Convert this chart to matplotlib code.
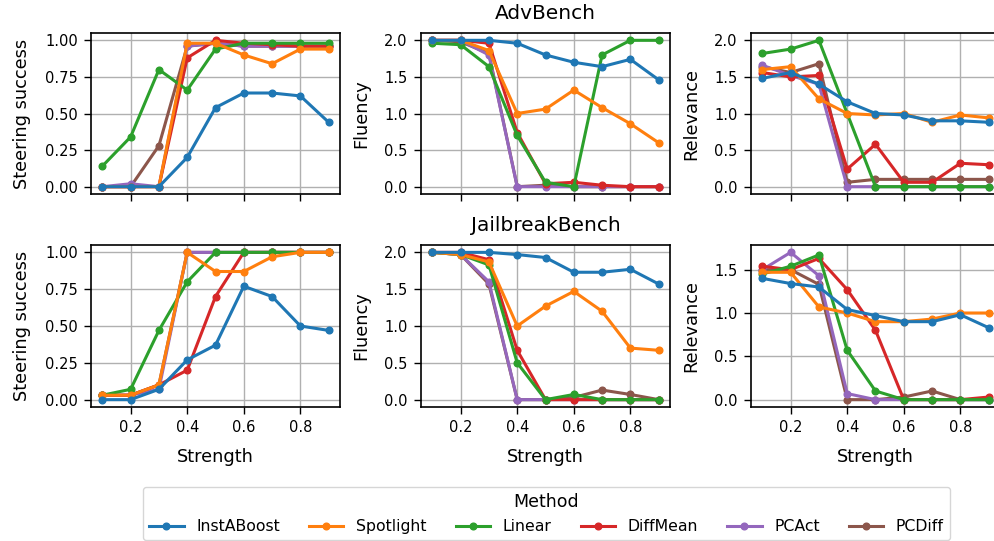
import matplotlib
matplotlib.use("Agg")
import matplotlib.pyplot as plt

strength = [0.1, 0.2, 0.3, 0.4, 0.5, 0.6, 0.7, 0.8, 0.9]
methods = ["InstABoost", "Spotlight", "Linear", "DiffMean", "PCAct", "PCDiff"]
colors = ["#1f77b4", "#ff7f0e", "#2ca02c", "#d62728", "#9467bd", "#8c564b"]
benchmarks = ["AdvBench", "JailbreakBench"]
metrics = ["Steering success", "Fluency", "Relevance"]

# AdvBench
adv_success = {
    "InstABoost": [0.0, 0.0, 0.0, 0.20, 0.54, 0.64, 0.64, 0.62, 0.44],
    "Spotlight": [0.0, 0.0, 0.0, 0.98, 0.98, 0.90, 0.84, 0.94, 0.94],
    "Linear": [0.14, 0.34, 0.80, 0.66, 0.94, 0.98, 0.98, 0.98, 0.98],
    "DiffMean": [0.0, 0.0, 0.0, 0.88, 1.00, 0.98, 0.97, 0.96, 0.96],
    "PCAct": [0.0, 0.02, 0.0, 0.96, 0.98, 0.96, 0.96, 0.96, 0.96],
    "PCDiff": [0.0, 0.0, 0.28, 0.96, 0.98, 0.96, 0.96, 0.96, 0.96],
}
adv_fluency = {
    "InstABoost": [2.0, 2.0, 2.0, 1.96, 1.80, 1.70, 1.64, 1.74, 1.46],
    "Spotlight": [2.0, 2.0, 1.86, 1.00, 1.06, 1.32, 1.08, 0.86, 0.60],
    "Linear": [1.96, 1.94, 1.64, 0.70, 0.06, 0.0, 1.80, 2.0, 2.0],
    "DiffMean": [2.0, 2.0, 1.96, 0.74, 0.04, 0.06, 0.02, 0.0, 0.0],
    "PCAct": [2.0, 2.0, 1.80, 0.0, 0.0, 0.0, 0.0, 0.0, 0.0],
    "PCDiff": [2.0, 1.98, 1.82, 0.0, 0.02, 0.0, 0.0, 0.0, 0.0],
}
adv_relevance = {
    "InstABoost": [1.48, 1.56, 1.40, 1.16, 1.00, 0.98, 0.90, 0.90, 0.88],
    "Spotlight": [1.60, 1.64, 1.20, 1.00, 0.98, 1.00, 0.88, 0.98, 0.94],
    "Linear": [1.82, 1.88, 2.00, 1.00, 0.0, 0.0, 0.0, 0.0, 0.0],
    "DiffMean": [1.56, 1.50, 1.52, 0.24, 0.58, 0.06, 0.06, 0.32, 0.30],
    "PCAct": [1.66, 1.52, 1.40, 0.0, 0.0, 0.0, 0.0, 0.0, 0.0],
    "PCDiff": [1.64, 1.56, 1.68, 0.06, 0.10, 0.10, 0.10, 0.10, 0.10],
}

# JailbreakBench
jb_success = {
    "InstABoost": [0.0, 0.0, 0.07, 0.27, 0.37, 0.77, 0.70, 0.50, 0.47],
    "Spotlight": [0.03, 0.03, 0.10, 1.00, 0.87, 0.87, 0.97, 1.00, 1.00],
    "Linear": [0.03, 0.07, 0.47, 0.80, 1.00, 1.00, 1.00, 1.00, 1.00],
    "DiffMean": [0.03, 0.03, 0.10, 0.20, 0.70, 1.00, 1.00, 1.00, 1.00],
    "PCAct": [0.03, 0.03, 0.07, 1.00, 1.00, 1.00, 1.00, 1.00, 1.00],
    "PCDiff": [0.03, 0.03, 0.10, 1.00, 1.00, 1.00, 1.00, 1.00, 1.00],
}
jb_fluency = {
    "InstABoost": [2.0, 2.0, 2.0, 1.97, 1.93, 1.73, 1.73, 1.77, 1.57],
    "Spotlight": [2.0, 1.97, 1.87, 1.00, 1.27, 1.47, 1.20, 0.70, 0.67],
    "Linear": [2.0, 1.97, 1.83, 0.50, 0.0, 0.07, 0.0, 0.0, 0.0],
    "DiffMean": [2.0, 2.0, 1.90, 0.67, 0.0, 0.0, 0.0, 0.0, 0.0],
    "PCAct": [2.0, 1.97, 1.60, 0.0, 0.0, 0.0, 0.0, 0.0, 0.0],
    "PCDiff": [2.0, 1.97, 1.57, 0.0, 0.0, 0.03, 0.13, 0.07, 0.0],
}
jb_relevance = {
    "InstABoost": [1.40, 1.34, 1.30, 1.04, 0.97, 0.90, 0.90, 0.98, 0.83],
    "Spotlight": [1.47, 1.47, 1.07, 1.00, 0.90, 0.90, 0.93, 1.00, 1.00],
    "Linear": [1.45, 1.54, 1.67, 0.57, 0.10, 0.0, 0.0, 0.0, 0.0],
    "DiffMean": [1.54, 1.50, 1.63, 1.27, 0.80, 0.0, 0.0, 0.0, 0.03],
    "PCAct": [1.50, 1.70, 1.43, 0.07, 0.0, 0.0, 0.0, 0.0, 0.0],
    "PCDiff": [1.50, 1.50, 1.33, 0.0, 0.0, 0.03, 0.10, 0.0, 0.0],
}

panels = [[adv_success, adv_fluency, adv_relevance],
          [jb_success, jb_fluency, jb_relevance]]

W, H = 995, 541
fig = plt.figure(figsize=(W / 100, H / 100), dpi=100)

# axes boxes in pixels, the right column runs slightly past the figure edge
col_left = [91, 421, 751]
col_w = 249
row_top = [33, 245]
row_h = [161, 162]

axes = []
for r in range(2):
    row = []
    for c in range(3):
        ax = fig.add_axes([col_left[c] / W, 1 - (row_top[r] + row_h[r]) / H,
                           col_w / W, row_h[r] / H])
        row.append(ax)
    axes.append(row)

handles = {}
for r in range(2):
    for c in range(3):
        ax = axes[r][c]
        data = panels[r][c]
        # last method drawn first, so InstABoost ends up on top
        for m, col in reversed(list(zip(methods, colors))):
            line, = ax.plot(strength, data[m], color=col, lw=2.2, marker="o",
                            ms=4.8, label=m)
            handles[m] = line
        ax.set_xlim(0.06, 0.94)
        ax.set_xticks([0.2, 0.4, 0.6, 0.8])
        ax.grid(True, color="#b0b0b0", lw=1.0)
        ax.set_axisbelow(True)
        ax.tick_params(labelsize=10.5, length=5, width=1.0, pad=4.5)
        for s in ax.spines.values():
            s.set_linewidth(1.2)
        ax.set_ylabel(metrics[c], fontsize=12.8, labelpad=10)
        if c == 0:
            ax.set_yticks([0, 0.25, 0.5, 0.75, 1.0])
            ax.set_yticklabels(["0.00", "0.25", "0.50", "0.75", "1.00"])
        elif r == 1 and c == 2:
            ax.set_yticks([0, 0.5, 1.0, 1.5])
        else:
            ax.set_yticks([0, 0.5, 1.0, 1.5, 2.0])
        if r == 0:
            ax.set_xticklabels([])
        else:
            ax.set_xticklabels(["0.2", "0.4", "0.6", "0.8"])
            ax.set_xlabel("Strength", fontsize=12.8, labelpad=9)
        if c == 1:
            ax.set_title(benchmarks[r], fontsize=14.5, pad=10)

leg = fig.legend([handles[m] for m in methods], methods, title="Method",
                 ncol=6, loc="upper center",
                 bbox_to_anchor=(546.5 / W, 1 - 487 / H), fontsize=11.3,
                 title_fontsize=12.5, frameon=True, handlelength=2.2,
                 columnspacing=1.85, borderaxespad=0.0)

fig.savefig("out.png", dpi=100)
